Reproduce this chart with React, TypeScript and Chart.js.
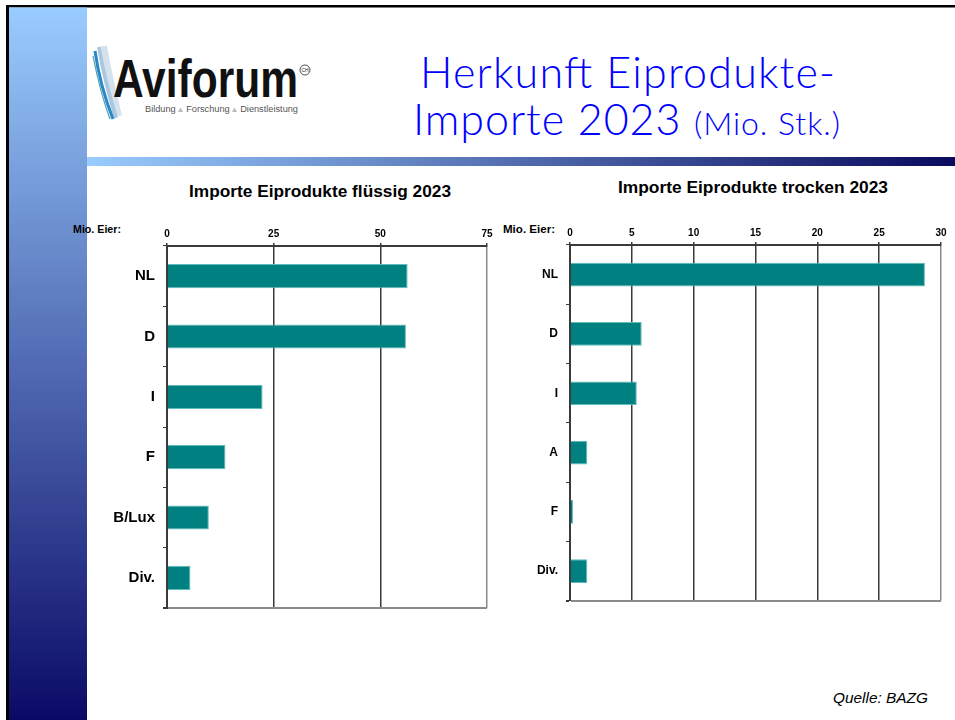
import React, { useEffect, useRef } from "react";
import { Chart, registerables } from "chart.js";

Chart.register(...registerables);

const fluidCategories = ["NL", "D", "I", "F", "B/Lux", "Div."];
const fluidValues = [56.4, 56.0, 22.4, 13.7, 9.8, 5.5];
const fluidTickValues = [0, 25, 50, 75];

const dryCategories = ["NL", "D", "I", "A", "F", "Div."];
const dryValues = [28.7, 5.8, 5.4, 1.4, 0.25, 1.4];
const dryTickValues = [0, 5, 10, 15, 20, 25, 30];

const BAR = "#008080";
const BAR_EDGE = "#5fbcbc";
const GRID = "#3a3a3a";
const EDGE = "#8a8a8a";
const FONT = "'Liberation Sans', Arial, sans-serif";

function makeChart(
  canvas: HTMLCanvasElement,
  labels: string[],
  values: number[],
  tickValues: number[],
  yWidth: number,
  xHeight: number,
  padRight: number,
  padBottom: number,
  catFontSize: number
) {
  const max = tickValues[tickValues.length - 1];
  return new Chart(canvas, {
    type: "bar",
    data: {
      labels,
      datasets: [
        {
          data: values,
          backgroundColor: BAR,
          borderColor: BAR_EDGE,
          borderWidth: 1,
          borderSkipped: "start",
          categoryPercentage: 1,
          barPercentage: 0.4,
        },
      ],
    },
    options: {
      indexAxis: "y",
      responsive: false,
      animation: false,
      devicePixelRatio: 1,
      layout: { padding: { left: 0, top: 0, right: padRight, bottom: padBottom } },
      plugins: { legend: { display: false }, tooltip: { enabled: false }, title: { display: false } },
      scales: {
        x: {
          position: "top",
          min: 0,
          max,
          afterBuildTicks: (scale: any) => {
            scale.ticks = tickValues.map((v) => ({ value: v }));
          },
          afterFit: (scale: any) => {
            scale.height = xHeight;
          },
          grid: {
            color: (ctx: any) => (ctx.tick && ctx.tick.value === max ? EDGE : GRID),
            lineWidth: 1.5,
            tickLength: 3,
            tickColor: GRID,
          },
          border: { display: true, color: GRID, width: 2 },
          ticks: {
            color: "#000",
            font: { family: FONT, size: 10, weight: "bold" },
            padding: 3,
            maxRotation: 0,
            autoSkip: false,
          },
        },
        y: {
          afterFit: (scale: any) => {
            scale.width = yWidth;
          },
          grid: {
            offset: true,
            drawOnChartArea: true,
            color: (ctx: any) => (ctx.type === "scale" ? EDGE : "rgba(0,0,0,0)"),
            lineWidth: (ctx: any) => (ctx.type === "scale" ? 2 : 1),
            tickLength: 4,
            tickColor: GRID,
          },
          border: { display: true, color: GRID, width: 2 },
          ticks: {
            color: "#000",
            font: { family: FONT, size: catFontSize, weight: "bold" },
            padding: 8,
          },
        },
      },
    },
  } as any);
}

const TITLE_FONT = "Lato, 'DejaVu Sans', sans-serif";

export default function App() {
  const leftRef = useRef<HTMLCanvasElement>(null);
  const rightRef = useRef<HTMLCanvasElement>(null);

  useEffect(() => {
    const a = makeChart(leftRef.current!, fluidCategories, fluidValues, fluidTickValues, 77, 31, 18, 0, 15);
    const b = makeChart(rightRef.current!, dryCategories, dryValues, dryTickValues, 65, 30, 14, 0, 12);
    return () => {
      a.destroy();
      b.destroy();
    };
  }, []);

  return (
    <div style={{ position: "absolute", left: 0, top: 0, width: 955, height: 720, background: "#fff", overflow: "hidden" }}>
      <svg width={955} height={720} style={{ position: "absolute", left: 0, top: 0 }}>
        <defs>
          <linearGradient id="vbar" x1="0" y1="0" x2="0" y2="1">
            <stop offset="0" stopColor="#99ccff" />
            <stop offset="1" stopColor="#0a0a66" />
          </linearGradient>
          <linearGradient id="hbar" x1="0" y1="0" x2="1" y2="0">
            <stop offset="0" stopColor="#99ccff" />
            <stop offset="1" stopColor="#0a0a5e" />
          </linearGradient>
        </defs>
        <rect x={6} y={5} width={949} height={2.5} fill="#000" />
        <rect x={6} y={5} width={3} height={715} fill="#000" />
        <rect x={9} y={7.5} width={78} height={712.5} fill="url(#vbar)" />
        <rect x={87} y={157} width={868} height={9} fill="url(#hbar)" />

        {/* logo swoosh */}
        <path d="M104 46 Q110 80 119 116" stroke="#d3e2ee" strokeWidth={6} fill="none" />
        <path d="M99 47 Q105 82 116 118" stroke="#a9c8e0" strokeWidth={4} fill="none" />
        <path d="M95 51 Q100 86 113 119" stroke="#2a86c8" strokeWidth={3} fill="none" />
        <path d="M93 56 Q100 92 110 119" stroke="#4aa0b0" strokeWidth={1.2} fill="none" />
        <text x={113} y={97} fontFamily={FONT} fontWeight="bold" fontSize={54} fill="#111" textLength={185} lengthAdjust="spacingAndGlyphs">
          Aviforum
        </text>
        <circle cx={305} cy={70} r={5} fill="none" stroke="#222" strokeWidth={0.8} />
        <text x={305} y={72} fontFamily={FONT} fontSize={5} fill="#222" textAnchor="middle">
          CH
        </text>
        <text x={145} y={112} fontFamily={FONT} fontSize={8.5} fill="#555" textLength={153} lengthAdjust="spacingAndGlyphs">
          Bildung <tspan fill="#bbb">▴</tspan> Forschung <tspan fill="#bbb">▴</tspan> Dienstleistung
        </text>

        {/* title */}
        <text x={420} y={88} fontFamily={TITLE_FONT} fontWeight={300} fontSize={43} fill="#0000ff" textLength={415} lengthAdjust="spacing">
          Herkunft Eiprodukte-
        </text>
        <text x={413} y={135} fontFamily={TITLE_FONT} fontWeight={300} fontSize={43} fill="#0000ff" textLength={427} lengthAdjust="spacing">
          Importe 2023 <tspan fontSize={32}>(Mio. Stk.)</tspan>
        </text>

        {/* chart titles */}
        <text x={189} y={197} fontFamily={FONT} fontWeight="bold" fontSize={17} fill="#000" textLength={262} lengthAdjust="spacingAndGlyphs">
          Importe Eiprodukte flüssig 2023
        </text>
        <text x={618} y={193} fontFamily={FONT} fontWeight="bold" fontSize={17} fill="#000" textLength={270} lengthAdjust="spacingAndGlyphs">
          Importe Eiprodukte trocken 2023
        </text>
        <text x={73} y={233} fontFamily={FONT} fontWeight="bold" fontSize={10} fill="#000" textLength={48} lengthAdjust="spacingAndGlyphs">
          Mio. Eier:
        </text>
        <text x={503} y={233} fontFamily={FONT} fontWeight="bold" fontSize={10.5} fill="#000" textLength={52} lengthAdjust="spacingAndGlyphs">
          Mio. Eier:
        </text>

        <text x={833} y={703} fontFamily={FONT} fontStyle="italic" fontSize={15} fill="#000" textLength={95} lengthAdjust="spacingAndGlyphs">
          Quelle: BAZG
        </text>
      </svg>
      <canvas
        ref={leftRef}
        width={415}
        height={410}
        style={{ position: "absolute", left: 90, top: 215, width: 415, height: 410 }}
      />
      <canvas
        ref={rightRef}
        width={450}
        height={401}
        style={{ position: "absolute", left: 505, top: 215, width: 450, height: 401 }}
      />
    </div>
  );
}
